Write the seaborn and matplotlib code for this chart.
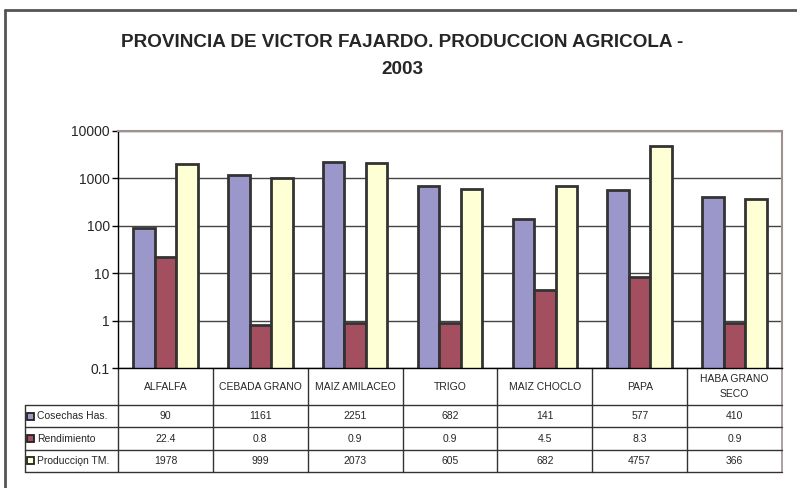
import numpy as np
import pandas as pd
import matplotlib
matplotlib.use("Agg")
import matplotlib.pyplot as plt
import seaborn as sns
from matplotlib.lines import Line2D
from matplotlib.patches import Rectangle

categories = ["ALFALFA", "CEBADA GRANO", "MAIZ AMILACEO", "TRIGO",
              "MAIZ CHOCLO", "PAPA", "HABA GRANO\nSECO"]
series_names = ["Cosechas Has.", "Rendimiento", "Producciǫn TM."]
cosechas = [90, 1161, 2251, 682, 141, 577, 410]
rendimiento = [22.4, 0.8, 0.9, 0.9, 4.5, 8.3, 0.9]
produccion = [1978, 999, 2073, 605, 682, 4757, 366]
table_text = [["90", "1161", "2251", "682", "141", "577", "410"],
              ["22.4", "0.8", "0.9", "0.9", "4.5", "8.3", "0.9"],
              ["1978", "999", "2073", "605", "682", "4757", "366"]]
y_ticks = [0.1, 1, 10, 100, 1000, 10000]
y_tick_labels = ["0.1", "1", "10", "100", "1000", "10000"]
colors = ["#9B97CA", "#A44F60", "#FFFFD5"]
title = "PROVINCIA DE VICTOR FAJARDO. PRODUCCION AGRICOLA -\n2003"

sns.set_style("white")
plt.rcParams["font.family"] = ["Liberation Sans", "DejaVu Sans"]

df = pd.DataFrame({
    "cat": categories * 3,
    "series": np.repeat(series_names, len(categories)),
    "value": cosechas + rendimiento + produccion,
})

W, H = 797, 488
fig = plt.figure(figsize=(W / 100, H / 100), dpi=100)
L, R, T, B = 118, 782, 131, 368
ax = fig.add_axes([L / W, 1 - B / H, (R - L) / W, (B - T) / H])

sns.barplot(data=df, x="cat", y="value", hue="series", palette=colors,
            width=0.68, edgecolor="#333333", linewidth=2, ax=ax,
            legend=False, errorbar=None, saturation=1)
ax.set_yscale("log")
ax.set_ylim(0.1, 10000)
ax.set_xlim(-0.5, len(categories) - 0.5)
ax.set_yticks(y_ticks)
ax.set_yticklabels(y_tick_labels, fontsize=10)
ax.minorticks_off()
ax.tick_params(axis="y", which="major", direction="out", length=4,
               width=1, color="black", pad=2, left=True)
ax.set_xticks([])
ax.set_xlabel("")
ax.set_ylabel("")
ax.set_axisbelow(True)
ax.yaxis.grid(True, color="#444444", linewidth=1)
for s in ["top", "right"]:
    ax.spines[s].set_color("#A09090")
    ax.spines[s].set_linewidth(1.5)
ax.spines["left"].set_color("black")
ax.spines["bottom"].set_color("black")
ax.spines["left"].set_linewidth(1)
ax.spines["bottom"].set_linewidth(1)

# table (y in axes coords)
def ay(px):
    return (B - px) / (B - T)

def axx(px):
    return (px - L) / (R - L)

rows_y = [ay(405), ay(427), ay(450), ay(472)]
bottom = rows_y[-1]
tx = ax.get_xaxis_transform()
lc = "#333333"
for k in range(len(categories)):
    ax.add_line(Line2D([k - 0.5, k - 0.5], [0, bottom], transform=tx,
                       color=lc, lw=1, clip_on=False))
ax.add_line(Line2D([1, 1], [0, bottom], transform=ax.transAxes,
                   color="#A09090", lw=1.2, clip_on=False))
ax.add_line(Line2D([axx(25), axx(25)], [rows_y[0], bottom],
                   transform=ax.transAxes, color=lc, lw=1, clip_on=False))
for y in rows_y:
    ax.add_line(Line2D([axx(25), 1], [y, y], transform=ax.transAxes,
                       color=lc, lw=1, clip_on=False))

hdr_c = (0 + rows_y[0]) / 2
for i, c in enumerate(categories):
    ax.text(i, hdr_c, c, transform=tx, ha="center", va="center",
            fontsize=7.5, linespacing=1.6)

for r, name in enumerate(series_names):
    yc = (rows_y[r] + rows_y[r + 1]) / 2
    sq = 7 / (B - T)
    ax.add_patch(Rectangle((axx(27), yc - sq / 2), axx(34) - axx(27), sq,
                           transform=ax.transAxes, facecolor=colors[r],
                           edgecolor="#222222", lw=1.3, clip_on=False))
    ax.text(axx(37), yc, name, transform=ax.transAxes, ha="left",
            va="center", fontsize=7.5)
    for i, v in enumerate(table_text[r]):
        ax.text(i, yc, v, transform=tx, ha="center", va="center",
                fontsize=7.5)

fig.text(402 / W, 1 - 56 / H, title, ha="center", va="center",
         fontsize=13.6, fontweight="bold", linespacing=1.75)

fig.add_artist(Line2D([5 / W, 5 / W], [0, 1 - 10 / H], transform=fig.transFigure,
                      color="#555555", lw=2))
fig.add_artist(Line2D([5 / W, 1], [1 - 10 / H, 1 - 10 / H],
                      transform=fig.transFigure, color="#555555", lw=2))

fig.savefig("out.png", dpi=100, facecolor="white")
